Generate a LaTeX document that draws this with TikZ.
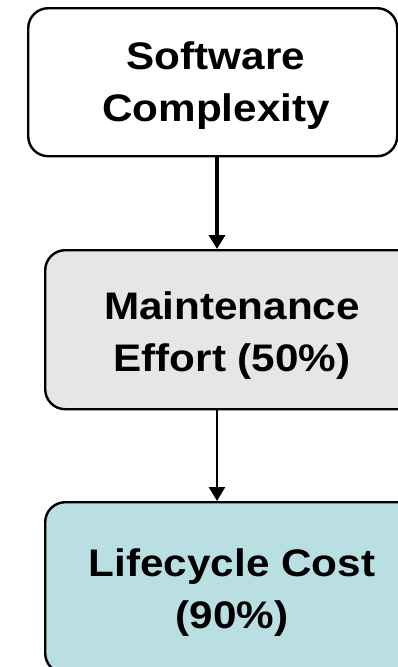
\documentclass[tikz,border=0pt]{standalone}
\usepackage{fontspec}
\setmainfont{Liberation Sans}
\usetikzlibrary{arrows.meta}
\definecolor{graybox}{HTML}{E6E6E6}
\definecolor{tealbox}{HTML}{BADFE3}
\newcommand{\wline}[1]{\scalebox{1.1}[1]{#1}}
\begin{document}
\begin{tikzpicture}[x=1pt,y=1pt,
  box/.style={draw=black, rounded corners=20pt, line width=2.4pt, anchor=north west, inner sep=0pt},
  lbl/.style={font=\bfseries\fontsize{38.4}{52}\selectfont, inner sep=0pt, anchor=base},
  flow/.style={-{Triangle[length=14pt,width=16pt]}}]
\useasboundingbox (0,0) rectangle (398,-667);
\clip (0,0) rectangle (398,-667);
\fill[white] (0,0) rectangle (398,-667);
% boxes
\node[box, fill=white, minimum width=369pt, minimum height=148pt] (b1) at (27,-7) {};
\node[box, fill=graybox, minimum width=376pt, minimum height=159pt] (b2) at (44,-249) {};
\node[box, fill=tealbox, minimum width=376pt, minimum height=171pt] (b3) at (44,-501) {};
% texts
\node[lbl] (t1a) at (216,-69) {\wline{Software}};
\node[lbl] (t1b) at (216,-121) {\wline{Complexity}};
\node[lbl] (t2a) at (232,-319) {\wline{Maintenance}};
\node[lbl] (t2b) at (232,-371) {\wline{Effort (50\%)}};
\node[lbl] (t3a) at (232,-576) {\wline{Lifecycle Cost}};
\node[lbl] (t3b) at (232,-628) {\wline{(90\%)}};
% connectors
\coordinate (ax) at (217,0);
\draw[flow, line width=4pt] (b1.south -| ax) -- (b2.north -| ax);
\draw[flow, line width=2.5pt] (b2.south -| ax) -- (b3.north -| ax);
\end{tikzpicture}
\end{document}
